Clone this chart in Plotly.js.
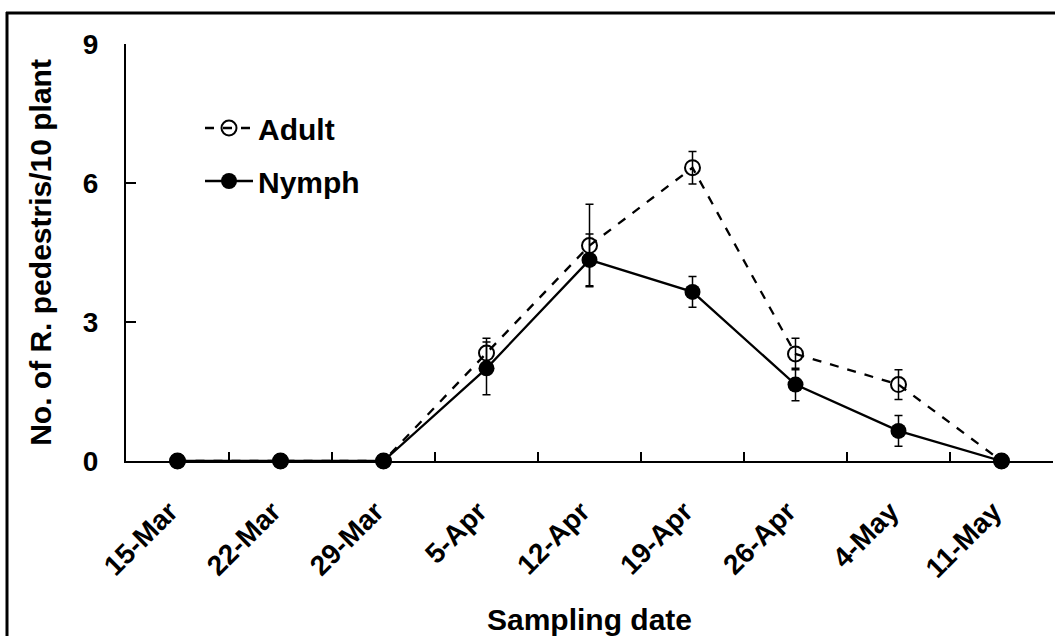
<!DOCTYPE html>
<html>
<head>
<meta charset="utf-8">
<script src="https://cdn.plot.ly/plotly-3.0.1.min.js"></script>
<style>
html,body{margin:0;padding:0;background:#fff;}
#chart{width:1055px;height:636px;}
</style>
</head>
<body>
<div id="chart"></div>
<script>
const dates = ["15-Mar","22-Mar","29-Mar","5-Apr","12-Apr","19-Apr","26-Apr","4-May","11-May"];
const adult = [0,0,0,2.33,4.65,6.33,2.31,1.65,0];
const adultErr = [0,0,0,0.32,0.89,0.35,0.34,0.32,0];
const nymph = [0,0,0,2.0,4.34,3.65,1.65,0.65,0];
const nymphErr = [0,0,0,0.57,0.56,0.33,0.35,0.33,0];
const yTicks = [0,3,6,9];

const W = 1055, H = 636;
const M = {l:126, r:2, t:44, b:175};
const pw = W - M.l - M.r, ph = H - M.t - M.b;
const px = v => (v - M.l) / pw;
const py = v => (H - M.b - v) / ph;

const FONT = "Liberation Sans, Arial, sans-serif";

const traces = [
  {
    x: dates, y: adult, name: "Adult", type: "scatter", mode: "lines+markers",
    legendgroup: "a",
    line: {color: "#000", width: 2.3, dash: "dash"},
    marker: {symbol: "circle-open", size: 15, color: "#000", line: {width: 2, color: "#000"}},
    error_y: {type: "data", array: adultErr, visible: true, color: "#000", thickness: 1.5, width: 4},
    cliponaxis: false
  },
  {
    x: dates, y: nymph, name: "Nymph", type: "scatter", mode: "lines+markers",
    legendgroup: "n",
    line: {color: "#000", width: 2.3},
    marker: {symbol: "circle", size: 16, color: "#000"},
    error_y: {type: "data", array: nymphErr, visible: true, color: "#000", thickness: 1.5, width: 4},
    cliponaxis: false
  }
];

const layout = {
  width: W, height: H,
  margin: M,
  paper_bgcolor: "#fff", plot_bgcolor: "#fff",
  font: {family: FONT, color: "#000"},
  showlegend: true,
  legend: {
    x: px(200), y: py(102), xanchor: "left", yanchor: "top",
    font: {family: FONT, size: 30, color: "#000", weight: "bold"},
    bgcolor: "rgba(0,0,0,0)", borderwidth: 0,
    traceorder: "grouped", tracegroupgap: 11, itemwidth: 48
  },
  xaxis: {
    type: "category", range: [-0.5, 8.5], fixedrange: true,
    showline: true, linecolor: "#000", linewidth: 2,
    ticks: "inside", ticklen: 9, tickwidth: 2, tickcolor: "#000",
    tickson: "boundaries", showgrid: false, zeroline: false,
    tickangle: -45, ticklabelstandoff: 21, ticklabelshift: -8,
    tickfont: {family: FONT, size: 28, color: "#000", weight: "bold"},
    title: {text: "Sampling date", font: {family: FONT, size: 30, color: "#000", weight: "bold"}, standoff: 27},
    automargin: false
  },
  yaxis: {
    range: [0, 9], fixedrange: true,
    tickvals: yTicks, ticktext: yTicks.map(String),
    showline: true, linecolor: "#000", linewidth: 2,
    ticks: "inside", ticklen: 10, tickwidth: 2, tickcolor: "#000",
    showgrid: false, zeroline: false, ticklabelstandoff: 20,
    tickfont: {family: FONT, size: 28, color: "#000", weight: "bold"},
    title: {text: "No. of R. pedestris/10 plant", font: {family: FONT, size: 30, color: "#000", weight: "bold"}, standoff: 22},
    automargin: false
  },
  shapes: [
    {type: "line", xref: "paper", yref: "paper", x0: px(6), x1: px(1060), y0: py(13), y1: py(13), line: {color: "#000", width: 3}},
    {type: "line", xref: "paper", yref: "paper", x0: px(7), x1: px(7), y0: py(12), y1: py(640), line: {color: "#000", width: 3}}
  ]
};

Plotly.newPlot("chart", traces, layout, {displayModeBar: false, staticPlot: true});
</script>
</body>
</html>
